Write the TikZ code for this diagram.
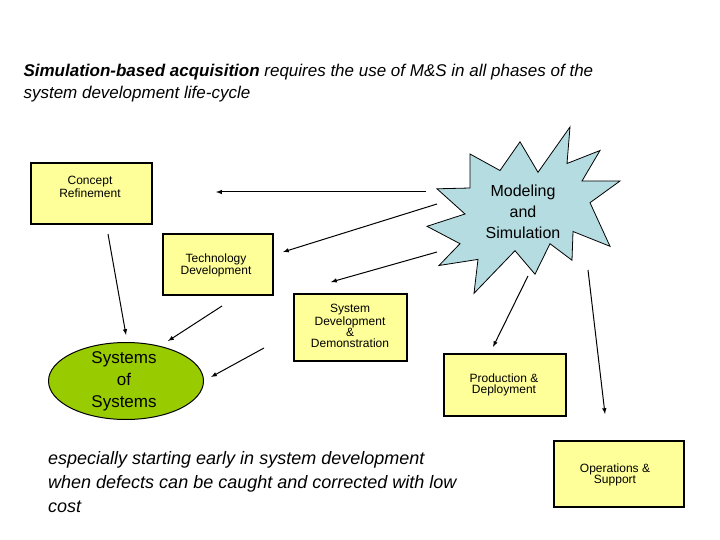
\documentclass[tikz,border=0pt]{standalone}
\usepackage{fontspec}
\setmainfont{Liberation Sans}
\usetikzlibrary{shapes.geometric}
\begin{document}
\begin{tikzpicture}[x=1pt,y=-1pt,
 box/.style={draw,line width=2pt,fill=boxfill,inner sep=0},
 lbl/.style={font=\fontsize{12}{11}\selectfont,align=center,anchor=north},
 arr/.style={-latex,line width=1pt},
 ]
\definecolor{boxfill}{RGB}{255,255,153}
\definecolor{starfill}{RGB}{180,220,225}
\definecolor{ellfill}{RGB}{153,204,0}
\useasboundingbox (0,0) rectangle (720,540);
\node[anchor=base west,font=\fontsize{17}{20}\selectfont\itshape] (title) at (20,77) {\textbf{Simulation-based acquisition} requires the use of M\&S in all phases of the};
\node[anchor=base west,font=\fontsize{17}{20}\selectfont\itshape] (title2) at (20,99) {system development life-cycle};
\node[box,minimum width=121,minimum height=61,anchor=north west] (cr) at (30,162) {};
\node[lbl] (crt) at (90,173) {Concept\\Refinement};
\node[box,minimum width=110,minimum height=61,anchor=north west] (td) at (162,233) {};
\node[lbl] (tdt) at (216,250) {Technology\\Development};
\node[box,minimum width=113,minimum height=67,anchor=north west] (sd) at (293,293) {};
\node[lbl] (sdt) at (350,301) {System\\Development\\\&\\Demonstration};
\node[box,minimum width=122,minimum height=62,anchor=north west] (pd) at (443,353) {};
\node[lbl] (pdt) at (504,370) {Production \&\\Deployment};
\node[box,minimum width=130,minimum height=66,anchor=north west] (op) at (553,440) {};
\node[lbl] (opt) at (615,460) {Operations \&\\Support};
\node[draw,line width=1pt,ellipse,fill=ellfill,minimum width=155,minimum height=77] (sos) at (126,381) {};
\node[font=\fontsize{17}{22}\selectfont,align=center] (sost) at (124,381) {Systems\\of\\Systems};
\draw[line width=0.8pt,fill=starfill] (570,127) -- (567,163.5) -- (600,150.5) -- (582,181) -- (620,181) -- (590,202.7) -- (610,246.3) -- (573,231.5) -- (572,260.2) -- (550,243.7) -- (535,274.2) -- (515,250.7) -- (474,293.3) -- (478,259.4) -- (439,265.5) -- (460,243.7) -- (427,226.3) -- (465,214) -- (437,188.8) -- (470,188) -- (470,154) -- (500,170.5) -- (520,141.8) -- (538,172.3) -- cycle;
\node[font=\fontsize{16}{21}\selectfont,align=center] (ms) at (523,212) {Modeling\\and\\Simulation};
\coordinate (a1s) at (426,192); \coordinate (a1e) at (216,192);
\coordinate (a2s) at (437,204); \coordinate (a2e) at (283,252);
\coordinate (a3s) at (437,252); \coordinate (a3e) at (331,282);
\coordinate (a4s) at (528,276); \coordinate (a4e) at (493,347);
\coordinate (a5s) at (588,270); \coordinate (a5e) at (605,414);
\coordinate (a6s) at (108,234); \coordinate (a6e) at (126,335);
\coordinate (a7s) at (222,306); \coordinate (a7e) at (168,341);
\coordinate (a8s) at (264,348); \coordinate (a8e) at (211,377);
\draw[arr] (a1s) -- (a1e);
\draw[arr] (a2s) -- (a2e);
\draw[arr] (a3s) -- (a3e);
\draw[arr] (a4s) -- (a4e);
\draw[arr] (a5s) -- (a5e);
\draw[arr] (a6s) -- (a6e);
\draw[arr] (a7s) -- (a7e);
\draw[arr] (a8s) -- (a8e);
\node[anchor=north west,font=\fontsize{18}{24}\selectfont\itshape,align=left,inner sep=0] (bt) at (48,451) {especially starting early in system development\\when defects can be caught and corrected with low\\cost};
\end{tikzpicture}
\end{document}
